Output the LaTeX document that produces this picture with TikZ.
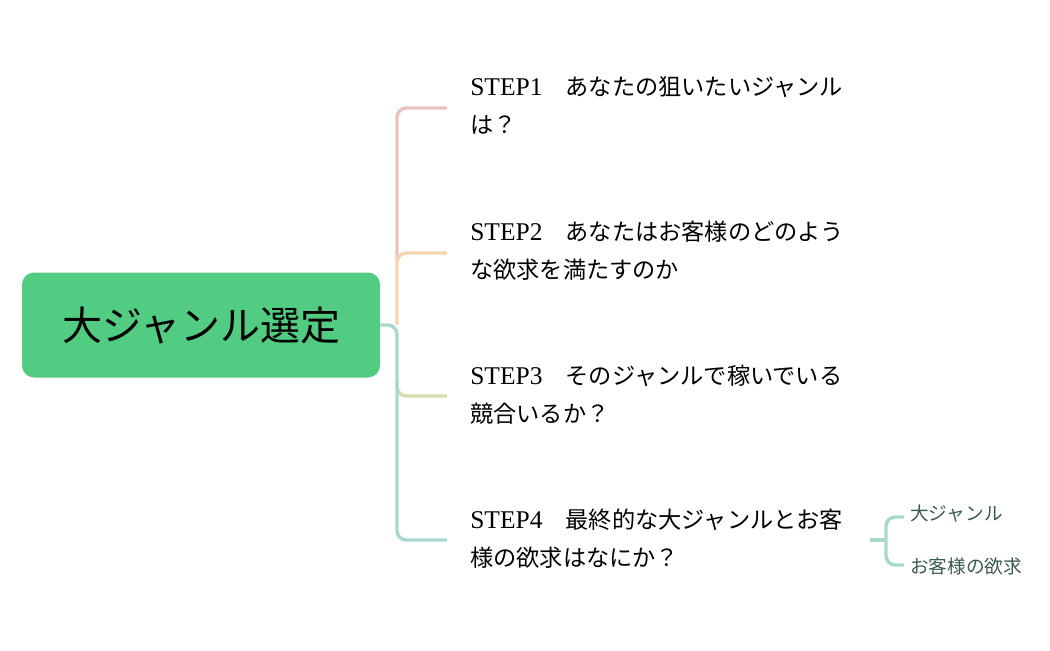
\documentclass[tikz,border=0pt]{standalone}
\usepackage{fontspec}
\setmainfont{Noto Sans CJK JP}
\newfontfamily\lat[Scale=1.1]{Liberation Serif}
\definecolor{cgreen}{HTML}{52CC82}
\definecolor{cred}{HTML}{E6C3C0}
\definecolor{corange}{HTML}{F5D5B0}
\definecolor{cyel}{HTML}{D8DCB0}
\definecolor{cteal}{HTML}{A8D8CC}
\definecolor{csub}{HTML}{3A5A50}
\begin{document}
\begin{tikzpicture}[x=0.75pt,y=-0.75pt,
  br/.style={line width=2.6pt,rounded corners=7pt},
  steptxt/.style={anchor=north west,align=left,font=\fontsize{17.4}{28.5}\selectfont,text=black,inner sep=0pt},
  subtxt/.style={anchor=west,font=\fontsize{14}{16}\selectfont,text=csub,inner sep=0pt}]
\useasboundingbox (0,0) rectangle (1050,650);
\node[fill=cgreen,rounded corners=9pt,minimum width=358*0.75pt,minimum height=105*0.75pt,font=\fontsize{30}{33}\selectfont] (root) at (201,325) {大ジャンル選定};
\coordinate (j) at (397,325);
\coordinate (e1) at (447,108);
\coordinate (e2) at (447,253);
\coordinate (e3) at (447,396);
\coordinate (e4) at (447,540);
\draw[br,cred] (397,260) -- (397,108) -- (e1);
\draw[br,corange] (j) -- (397,253) -- (e2);
\draw[br,cyel] (397,380) -- (397,396) -- (e3);
\draw[br,cteal] (root.east) -- (j) -- (397,540) -- (e4);
\node[steptxt] (s1) at (470,76) {{\lat STEP1}\quad あなたの狙いたいジャンル\\は？};
\node[steptxt] (s2) at (470,221) {{\lat STEP2}\quad あなたはお客様のどのよう\\な欲求を満たすのか};
\node[steptxt] (s3) at (470,365) {{\lat STEP3}\quad そのジャンルで稼いでいる\\競合いるか？};
\node[steptxt] (s4) at (470,509) {{\lat STEP4}\quad 最終的な大ジャンルとお客\\様の欲求はなにか？};
\coordinate (sj) at (886,540);
\node[subtxt] (t1) at (910,514) {大ジャンル};
\node[subtxt] (t2) at (910,566) {お客様の欲求};
\draw[br,cteal] (870,540) -- (sj);
\draw[br,cteal] (904,517) -- (886,517) -- (886,565) -- (904,565);
\end{tikzpicture}
\end{document}
